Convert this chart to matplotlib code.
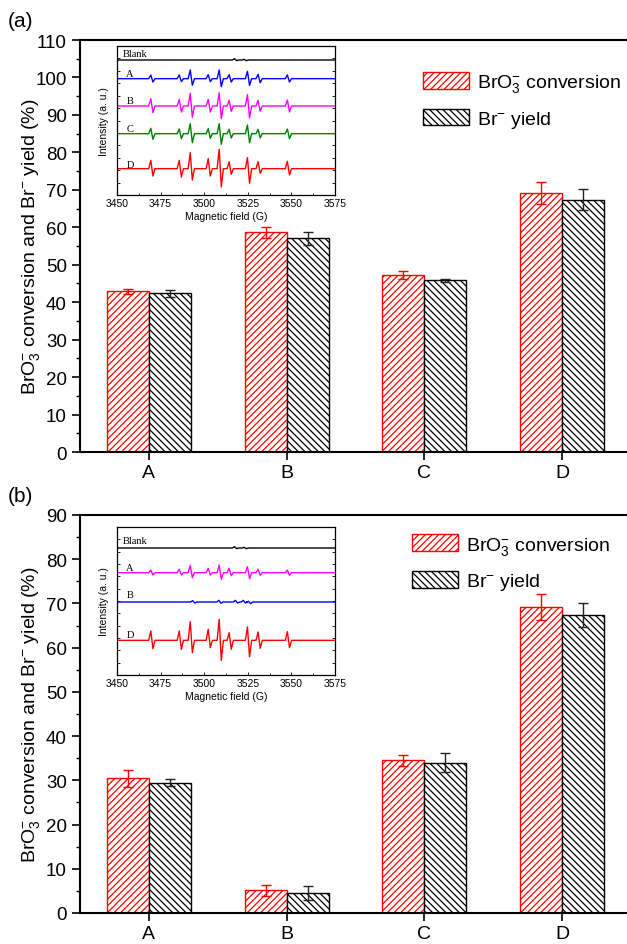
import matplotlib
matplotlib.use("Agg")
import matplotlib.pyplot as plt
from matplotlib.ticker import MultipleLocator, NullFormatter
import numpy as np

plt.rcParams['font.family'] = ['Liberation Sans', 'DejaVu Sans']
plt.rcParams['mathtext.fontset'] = 'custom'
plt.rcParams['mathtext.rm'] = 'Liberation Sans'
plt.rcParams['mathtext.it'] = 'Liberation Sans:italic'
plt.rcParams['hatch.linewidth'] = 0.9

# ---------------- data ----------------
categories = ["A", "B", "C", "D"]

conv_a = [42.9, 58.7, 47.3, 69.2]
conv_a_err = [0.7, 1.5, 1.0, 3.0]
yield_a = [42.4, 57.1, 45.8, 67.4]
yield_a_err = [0.9, 1.7, 0.5, 2.8]

conv_b = [30.5, 5.1, 34.5, 69.2]
conv_b_err = [1.9, 1.2, 1.3, 2.9]
yield_b = [29.5, 4.6, 34.0, 67.4]
yield_b_err = [0.8, 1.6, 2.2, 2.8]

# EPR line positions (G) shared by the spectra
epr_pos = [3470.0, 3486.3, 3492.6, 3502.9, 3509.2, 3514.9, 3525.4, 3531.5, 3548.3]

# panel (a) inset: baselines and (up, down) amplitudes (a.u.)
inset_a_names = ["Blank", "A", "B", "C", "D"]
inset_a_colors = ["black", "#0000ff", "#ff00ff", "#008000", "#ff0000"]
inset_a_base = [405, 349, 267, 184, 79]
a_A_up = [11, 11, 26, 12, 26, 12, 22, 13, 11]
a_A_dn = [10, 9, 20, 9, 24, 10, 20, 12, 10]
a_B_up = [22, 20, 38, 20, 40, 17, 34, 17, 18]
a_B_dn = [20, 18, 34, 18, 38, 16, 36, 16, 18]
a_C_up = [16, 14, 30, 15, 30, 13, 26, 13, 14]
a_C_dn = [17, 15, 27, 14, 32, 13, 27, 13, 15]
a_D_up = [25, 25, 48, 30, 58, 21, 33, 21, 22]
a_D_dn = [22, 25, 34, 22, 55, 17, 44, 14, 19]
blank_pos = [3518.0, 3523.5]
blank_up = [4, 2]
blank_dn = [2, 2]

# panel (b) inset
inset_b_names = ["Blank", "A", "B", "D"]
inset_b_colors = ["black", "#ff00ff", "#0000ff", "#ff0000"]
inset_b_base = [381, 307, 219, 104]
b_A_up = [8, 10, 22, 13, 23, 13, 18, 10, 8]
b_A_dn = [7, 7, 15, 7, 20, 9, 18, 8, 8]
b_D_up = [28, 28, 56, 33, 63, 23, 40, 25, 26]
b_D_dn = [25, 27, 37, 22, 60, 27, 49, 24, 22]
b_B_pos = [3494.0, 3509.0, 3518.5, 3523.0, 3526.0]
b_B_up = [4, 5, 5, 5, 2]
b_B_dn = [3, 4, 3, 3, 5]


def spectrum(pos, up, dn, base):
    xs = [3450.0]
    ys = [base]
    for p, u, d in zip(pos, up, dn):
        xs += [p - 1.8, p - 0.6, p + 0.6, p + 1.8]
        ys += [base, base + u, base - d, base]
    xs.append(3575.0)
    ys.append(base)
    return xs, ys


fig = plt.figure(figsize=(6.27, 9.45), dpi=100)
W, H = 627.0, 945.0


def main_panel(rect, conv, conv_err, yld, yld_err, ymax, letter, leg_anchor):
    ax = fig.add_axes(rect)
    x = np.arange(len(categories))
    w = 0.305
    ax.bar(x - w / 2, conv, w, color="white", edgecolor="#ff0000", hatch="/////",
           linewidth=1.0, yerr=conv_err, ecolor="#ff0000", capsize=3.5,
           error_kw=dict(elinewidth=1.0, capthick=1.0), label=r"BrO$_3^{-}$ conversion")
    ax.bar(x + w / 2, yld, w, color="white", edgecolor="black", hatch="\\\\\\\\\\",
           linewidth=1.0, yerr=yld_err, ecolor="#222222", capsize=3.5,
           error_kw=dict(elinewidth=1.0, capthick=1.0), label=r"Br$^{-}$ yield")
    ax.set_xlim(-0.5, 3.5)
    ax.set_ylim(0, ymax)
    ax.set_xticks(x)
    ax.set_xticklabels(categories, fontsize=14)
    ax.yaxis.set_major_locator(MultipleLocator(10))
    ax.yaxis.set_minor_locator(MultipleLocator(5))
    ax.tick_params(axis='y', labelsize=13.5, direction='out', length=6, width=1.2)
    ax.tick_params(axis='y', which='minor', direction='out', length=3, width=1.0)
    ax.tick_params(axis='x', direction='out', length=6, width=1.2, pad=3)
    for s in ax.spines.values():
        s.set_linewidth(1.5)
    ax.set_ylabel(r"BrO$_3^{-}$ conversion and Br$^{-}$ yield (%)", fontsize=14)
    ax.yaxis.set_label_coords(-0.069, 0.5)
    ax.legend(loc="upper left", bbox_to_anchor=leg_anchor, frameon=False, fontsize=14,
              handlelength=2.4, handleheight=0.95, labelspacing=0.75, handletextpad=0.4)
    fig.text(8 / W, rect[1] + rect[3] + 10 / H, letter, fontsize=15, ha="left", va="bottom")
    return ax


def inset(rect, names, colors, bases, series, labels_dy, ytop):
    ax = fig.add_axes(rect)
    for nm, c, b, (pos, up, dn), dy in zip(names, colors, bases, series, labels_dy):
        xs, ys = spectrum(pos, up, dn, b)
        ax.plot(xs, ys, color=c, lw=1.0)
        ax.text(3457.5 if nm != "Blank" else 3453.5, b + dy, nm,
                family="Liberation Serif", fontsize=7.5,
                ha="center" if nm != "Blank" else "left", va="center")
    ax.set_xlim(3450, 3575)
    ax.set_ylim(0, ytop)
    ax.xaxis.set_major_locator(MultipleLocator(25))
    ax.xaxis.set_minor_locator(MultipleLocator(12.5))
    ax.yaxis.set_major_locator(MultipleLocator(ytop / 12))
    ax.yaxis.set_major_formatter(NullFormatter())
    ax.tick_params(axis='both', which='both', direction='in', labelsize=7.5,
                   length=2.5, width=0.6, right=True, top=False, pad=2)
    ax.tick_params(axis='x', which='minor', length=1.5)
    for s in ax.spines.values():
        s.set_linewidth(0.9)
    ax.set_xlabel("Magnetic field (G)", fontsize=7.5, labelpad=2)
    ax.set_ylabel("Intensity (a. u.)", fontsize=7.5, labelpad=4)
    return ax


# panel (a)
ax_a = main_panel([80 / W, 1 - 453 / H, 551 / W, 412 / H], conv_a, conv_a_err,
                  yield_a, yield_a_err, 110, "(a)", (0.59, 0.965))
inset([117 / W, 1 - 196 / H, 218 / W, 149 / H], inset_a_names, inset_a_colors, inset_a_base,
      [(blank_pos, blank_up, blank_dn), (epr_pos, a_A_up, a_A_dn), (epr_pos, a_B_up, a_B_dn),
       (epr_pos, a_C_up, a_C_dn), (epr_pos, a_D_up, a_D_dn)],
      [19, 15, 15, 15, 13], 447)

# panel (b)
ax_b = main_panel([80 / W, 1 - 914 / H, 551 / W, 398 / H], conv_b, conv_b_err,
                  yield_b, yield_b_err, 90, "(b)", (0.57, 0.995))
inset([117 / W, 1 - 676 / H, 218 / W, 148 / H], inset_b_names, inset_b_colors, inset_b_base,
      [(blank_pos, blank_up, blank_dn), (epr_pos, b_A_up, b_A_dn),
       (b_B_pos, b_B_up, b_B_dn), (epr_pos, b_D_up, b_D_dn)],
      [23, 15, 21, 18], 444)

fig.savefig("out.png", dpi=100)
